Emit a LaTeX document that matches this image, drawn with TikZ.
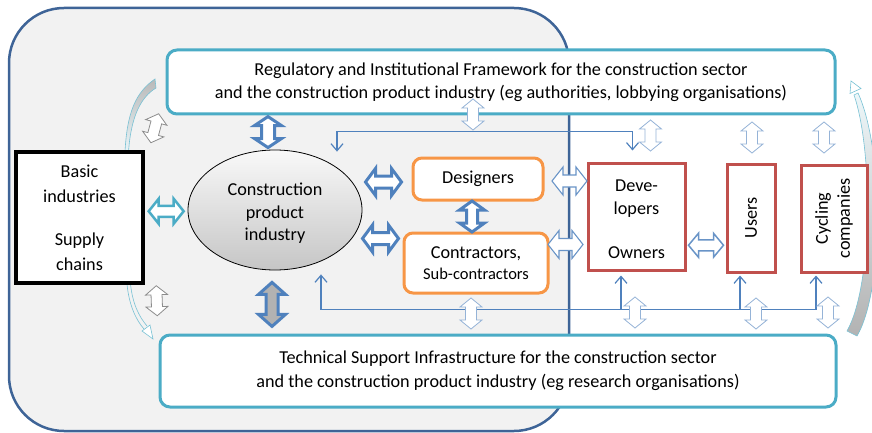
\documentclass[tikz,border=0pt]{standalone}
\usepackage{fontspec}
\setmainfont{Carlito}
\usetikzlibrary{arrows.meta,calc,shapes.geometric}
\definecolor{regionfill}{HTML}{F2F2F2}
\definecolor{regionline}{HTML}{3E6497}
\definecolor{cyanline}{HTML}{4BACC6}
\definecolor{orangeline}{HTML}{F79646}
\definecolor{redline}{HTML}{C0504D}
\definecolor{blueline}{HTML}{4F81BD}
\definecolor{lightblueline}{HTML}{95B3D7}
\definecolor{grayline}{HTML}{8C8C8C}
\tikzset{
  dbl len/.store in=\dblL, dbl wid/.store in=\dblW,
  dbl shaft/.store in=\dblS, dbl hlen/.store in=\dblA,
  dbl len=30, dbl wid=24, dbl shaft=12, dbl hlen=9,
  pics/dbl/.style={code={
    \path[pic actions] ({-\dblL/2},0) -- ({-\dblL/2+\dblA},{\dblW/2}) -- ({-\dblL/2+\dblA},{\dblS/2})
      -- ({\dblL/2-\dblA},{\dblS/2}) -- ({\dblL/2-\dblA},{\dblW/2}) -- ({\dblL/2},0)
      -- ({\dblL/2-\dblA},{-\dblW/2}) -- ({\dblL/2-\dblA},{-\dblS/2}) -- ({-\dblL/2+\dblA},{-\dblS/2})
      -- ({-\dblL/2+\dblA},{-\dblW/2}) -- cycle;}},
  fwbox/.style={draw=cyanline, line width=3pt, fill=white, rounded corners=10pt, align=center, inner sep=0pt},
  orbox/.style={draw=orangeline, line width=3pt, fill=white, rounded corners=9pt, align=center, inner sep=0pt},
  redbox/.style={draw=redline, line width=3pt, fill=white, align=center, inner sep=0pt},
  blackbox/.style={draw=black, line width=3.5pt, fill=white, inner sep=0pt},
  conn/.style={draw=blueline, line width=1.2pt},
  bigarrow/.style={draw=blueline, fill=white, line width=3pt, dbl len=36, dbl wid=27, dbl shaft=12, dbl hlen=10},
  midarrow/.style={draw=blueline!85, fill=white, line width=1.1pt, dbl len=35, dbl wid=28, dbl shaft=12, dbl hlen=11},
  lightarrow/.style={draw=lightblueline, fill=white, line width=0.8pt, dbl len=31, dbl wid=22, dbl shaft=11, dbl hlen=9, rotate=90},
  grayarrow/.style={draw=grayline, fill=white, line width=0.8pt, dbl len=30, dbl wid=22, dbl shaft=11, dbl hlen=9},
  curvearrow/.style={draw=cyanline!75, line width=0.6pt}
}
\begin{document}
\begin{tikzpicture}[x=1pt,y=-1pt,font={\fontsize{18.2}{23}\selectfont},
  >={Straight Barb[length=7pt,width=12pt]}]
\useasboundingbox (0,0) rectangle (872,433);
% grey region
\draw[regionline, fill=regionfill, line width=2.5pt, rounded corners=55pt] (9,8) rectangle (569,431);

% curved arrows
\path[curvearrow, top color=gray!55, bottom color=cyanline!12]
  (125,152) .. controls (127,112) and (136,92) .. (155,79) -- (156,88)
  .. controls (141,97) and (131,116) .. (128.5,152) -- cycle;
\draw[curvearrow] (127,284) .. controls (129,305) and (136,320) .. (144,329);
\draw[curvearrow] (130.5,284) .. controls (132.5,303) and (138.5,316) .. (147,326);
\draw[curvearrow, fill=white] (142,331) -- (153,339) -- (150,325) -- cycle;
\path[curvearrow, top color=cyanline!10, bottom color=gray!60]
  (857,336) .. controls (884,290) and (884,150) .. (858,93) -- (854,95)
  .. controls (873,150) and (873,285) .. (847,331) -- cycle;
\draw[curvearrow, fill=white] (851,81) -- (861,88.5) -- (850,93.5) -- cycle;

% nodes
\node[fwbox, minimum width=668pt, minimum height=64pt] (fw) at (501,82)
  {Regulatory and Institutional Framework for the construction sector\\
   and the construction product industry (eg authorities, lobbying organisations)};
\node[fwbox, minimum width=676pt, minimum height=72pt, font={\fontsize{18.2}{24}\selectfont}] (tech) at (498,371)
  {Technical Support Infrastructure for the construction sector\\
   and the construction product industry (eg research organisations)};
\node[blackbox, minimum width=127pt, minimum height=131pt, align=center,
  font={\fontsize{18.2}{25}\selectfont}] (basic) at (79.5,217.5)
  {Basic\\industries\\[18pt]Supply\\chains};
\node[ellipse, draw=black, line width=0.8pt, top color=white!95!gray, bottom color=gray!45,
  minimum width=174pt, minimum height=120pt, inner sep=0pt] (ell) at (275,210) {};
\node[align=center, font={\fontsize{18.2}{22.5}\selectfont}] (elltxt) at ($(ell)+(0,3.5)$)
  {Construction\\product\\industry};
\node[orbox, minimum width=130pt, minimum height=42pt] (des) at (478,179) {Designers};
\node[orbox, minimum width=144pt, minimum height=60pt] (con) at (476,263)
  {Contractors,\\[-2pt]{\fontsize{16.5}{20}\selectfont Sub-contractors}};
\node[redbox, minimum width=97pt, minimum height=107pt] (dev) at (636.5,216.5) {};
\node[align=center] (devtxt) at ($(dev)+(0,3)$) {Deve-\\lopers\\[21pt]Owners};
\node[redbox, minimum width=48pt, minimum height=108pt] (users) at (751,218) {};
\node[rotate=90] (userstxt) at (users) {Users};
\node[redbox, minimum width=66pt, minimum height=107pt] (cyc) at (834,218.5) {};
\node[rotate=90, align=center, font={\fontsize{18.2}{22}\selectfont}] (cyctxt) at (cyc) {Cycling\\companies};

% thin connectors
\coordinate (tA) at ($(ell.north)+(62,2)$);
\coordinate (tB) at ($(dev.north)+(-4,-30)$);
\coordinate (tC) at ($(dev.north)+(-4,-11)$);
\draw[conn,<->] (tA) |- (tB) -- (tC);
\coordinate (bA) at ($(ell.south)+(46,4)$);
\coordinate (bB) at ($(cyc.south)+(-18,36)$);
\coordinate (bC) at ($(cyc.south)+(-18,2)$);
\draw[conn,<->] (bA) |- (bB) -- (bC);
\coordinate (dUp) at ($(dev.south)+(-15.5,4)$);
\coordinate (uUp) at ($(users.south)+(-11,2)$);
\draw[conn,->] (dUp |- bB) -- (dUp);
\draw[conn,->] (uUp |- bB) -- (uUp);

% block double arrows
\pic[bigarrow, dbl len=31, dbl wid=27, dbl shaft=13, dbl hlen=9, rotate=90] at ($(ell.north)+(-7,-17.5)$) {dbl};
\pic[bigarrow, fill=gray!90!black!55, dbl len=44, dbl wid=27, dbl shaft=12, dbl hlen=12, rotate=90] at ($(ell.south)+(-3,34)$) {dbl};
\pic[bigarrow, draw=cyanline, line width=2.5pt, dbl len=35, dbl wid=25, dbl shaft=11] at ($(basic.east)!0.5!(ell.west)+(0,-2.5)$) {dbl};
\pic[bigarrow] at ($(des.west)+(-28,3)$) {dbl};
\pic[bigarrow] at ($(con.north west)+(-22,7)$) {dbl};
\pic[bigarrow, dbl len=31, dbl wid=25, dbl shaft=11, dbl hlen=9, rotate=90] at ($(des.south)!0.5!(con.north)+(-5,0)$) {dbl};
\pic[midarrow] at ($(des.east)+(25,2)$) {dbl};
\pic[midarrow] at ($(dev.west)+(-21,28)$) {dbl};
\pic[midarrow, line width=1.5pt, dbl wid=24, dbl shaft=11, dbl hlen=10] at ($(dev.east)!0.5!(users.west)+(0,28)$) {dbl};
% light ones
\pic[lightarrow] at ($(des.north)+(-5,-42)$) {dbl};
\pic[lightarrow] at ($(dev.north)+(14,-26)$) {dbl};
\pic[lightarrow] at ($(users.north)+(1,-25)$) {dbl};
\pic[lightarrow] at ($(cyc.north)+(-10,-26)$) {dbl};
\pic[lightarrow] at ($(con.south)+(-5,19)$) {dbl};
\pic[lightarrow] at ($(dev.south)+(-1.5,41)$) {dbl};
\pic[lightarrow] at ($(users.south)+(5,40)$) {dbl};
\pic[lightarrow] at ($(cyc.south)+(-6,39)$) {dbl};
% grey ones
\pic[grayarrow, rotate=75] at ($(basic.north east)+(10,-22)$) {dbl};
\pic[grayarrow, rotate=92] at ($(basic.south east)+(12,16)$) {dbl};
\end{tikzpicture}
\end{document}
